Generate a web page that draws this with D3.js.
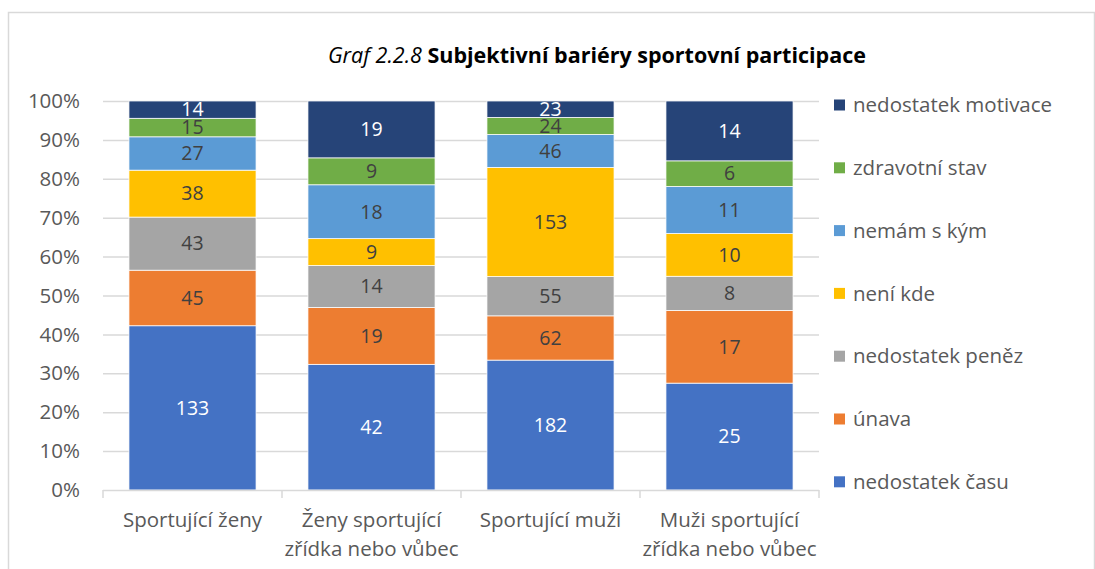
<!DOCTYPE html>
<html>
<head>
<meta charset="utf-8">
<script src="https://cdn.jsdelivr.net/npm/d3@7"></script>
<style>
  body { margin: 0; background: #fff; }
  svg text { font-family: "Open Sans", Lato, sans-serif; }
</style>
</head>
<body>
<svg id="chart" width="1095" height="569"></svg>
<script>
// categories (x axis), two lines each
const categories = [
  ["Sportující ženy"],
  ["Ženy sportující", "zřídka nebo vůbec"],
  ["Sportující muži"],
  ["Muži sportující", "zřídka nebo vůbec"]
];
const seriesNames = ["nedostatek času", "únava", "nedostatek peněz", "není kde", "nemám s kým", "zdravotní stav", "nedostatek motivace"];
const seriesColors = ["#4472C4", "#ED7D31", "#A5A5A5", "#FFC000", "#5B9BD5", "#70AD47", "#264478"];
const labelColors = ["#fff", "#404040", "#404040", "#404040", "#404040", "#404040", "#fff"];

// counts per series, one value per category
const nedostatekCasu = [133, 42, 182, 25];
const unava = [45, 19, 62, 17];
const nedostatekPenez = [43, 14, 55, 8];
const neniKde = [38, 9, 153, 10];
const nemamSKym = [27, 18, 46, 11];
const zdravotniStav = [15, 9, 24, 6];
const nedostatekMotivace = [14, 19, 23, 14];
const yTicks = [0, 0.1, 0.2, 0.3, 0.4, 0.5, 0.6, 0.7, 0.8, 0.9, 1];

const allSeries = [nedostatekCasu, unava, nedostatekPenez, neniKde, nemamSKym, zdravotniStav, nedostatekMotivace];

const svg = d3.select("#chart");
const W = 1095, H = 569;

// chart frame
svg.append("rect").attr("x", 8.5).attr("y", 12.5).attr("width", W - 9).attr("height", H)
  .attr("fill", "none").attr("stroke", "#d9d9d9").attr("stroke-width", 1.5);

// title
const title = svg.append("text").attr("x", 597).attr("y", 63).attr("text-anchor", "middle")
  .attr("font-size", 21.5).attr("fill", "#000");
title.append("tspan").attr("font-style", "italic").text("Graf 2.2.8 ");
title.append("tspan").attr("font-weight", "bold").text("Subjektivní bariéry sportovní participace");

const plotL = 103, plotR = 819, plotT = 101, plotB = 490;

const x = d3.scaleBand().domain(d3.range(categories.length)).range([plotL, plotR]).paddingInner(0.29).paddingOuter(0.145);
const y = d3.scaleLinear().domain([0, 1]).range([plotB, plotT]);

// gridlines
svg.append("g").selectAll("line").data(yTicks.slice(1)).join("line")
  .attr("x1", plotL).attr("x2", plotR)
  .attr("y1", d => y(d) + 0.5).attr("y2", d => y(d) + 0.5)
  .attr("stroke", "#d9d9d9").attr("stroke-width", 1.5);

// y axis labels
svg.append("g").selectAll("text").data(yTicks).join("text")
  .attr("x", 80).attr("y", d => y(d)).attr("dy", "0.35em")
  .attr("text-anchor", "end").attr("font-size", 20.5).attr("fill", "#595959")
  .text(d => d3.format(".0%")(d));

// stack data
const rows = categories.map((c, i) => {
  const r = { i };
  seriesNames.forEach((s, k) => r[s] = allSeries[k][i]);
  return r;
});
const stacked = d3.stack().keys(seriesNames).offset(d3.stackOffsetExpand)(rows);

const layers = svg.append("g").selectAll("g").data(stacked).join("g")
  .attr("fill", (d, k) => seriesColors[k]);

layers.selectAll("rect").data(d => d).join("rect")
  .attr("x", d => x(d.data.i))
  .attr("width", x.bandwidth())
  .attr("y", d => y(d[1]))
  .attr("height", d => y(d[0]) - y(d[1]))
  .attr("stroke", "#fff").attr("stroke-width", 0.75);

// value labels
stacked.forEach((layer, k) => {
  svg.append("g").selectAll("text").data(layer).join("text")
    .attr("x", d => x(d.data.i) + x.bandwidth() / 2)
    .attr("y", d => (y(d[0]) + y(d[1])) / 2)
    .attr("dy", "0.35em").attr("text-anchor", "middle")
    .attr("font-size", 19.5).attr("fill", labelColors[k])
    .text(d => d.data[seriesNames[k]]);
});

// x axis line and ticks
svg.append("line").attr("x1", plotL).attr("x2", plotR).attr("y1", plotB + 0.5).attr("y2", plotB + 0.5)
  .attr("stroke", "#d9d9d9").attr("stroke-width", 1.5);
const step = (plotR - plotL) / categories.length;
svg.append("g").selectAll("line").data(d3.range(categories.length + 1)).join("line")
  .attr("x1", d => plotL + d * step).attr("x2", d => plotL + d * step)
  .attr("y1", plotB).attr("y2", plotB + 8)
  .attr("stroke", "#d9d9d9").attr("stroke-width", 1.5);

// category labels
const cat = svg.append("g").selectAll("text").data(categories).join("text")
  .attr("x", (d, i) => x(i) + x.bandwidth() / 2)
  .attr("y", 520).attr("text-anchor", "middle").attr("font-size", 20.5).attr("fill", "#595959");
cat.selectAll("tspan").data(d => d).join("tspan")
  .attr("x", function () { return this.parentNode.getAttribute("x"); })
  .attr("dy", (d, j) => j === 0 ? "0.35em" : 29)
  .text(d => d);

// legend (top to bottom reversed order)
const legendOrder = seriesNames.map((s, k) => k).reverse();
const lg = svg.append("g").selectAll("g").data(legendOrder).join("g")
  .attr("transform", (k, j) => `translate(834, ${105 + j * 62.8})`);
lg.append("rect").attr("x", 0).attr("y", -5.5).attr("width", 11).attr("height", 11)
  .attr("fill", k => seriesColors[k]);
lg.append("text").attr("x", 19).attr("dy", "0.35em").attr("font-size", 20.5).attr("fill", "#595959")
  .text(k => seriesNames[k]);
</script>
</body>
</html>
